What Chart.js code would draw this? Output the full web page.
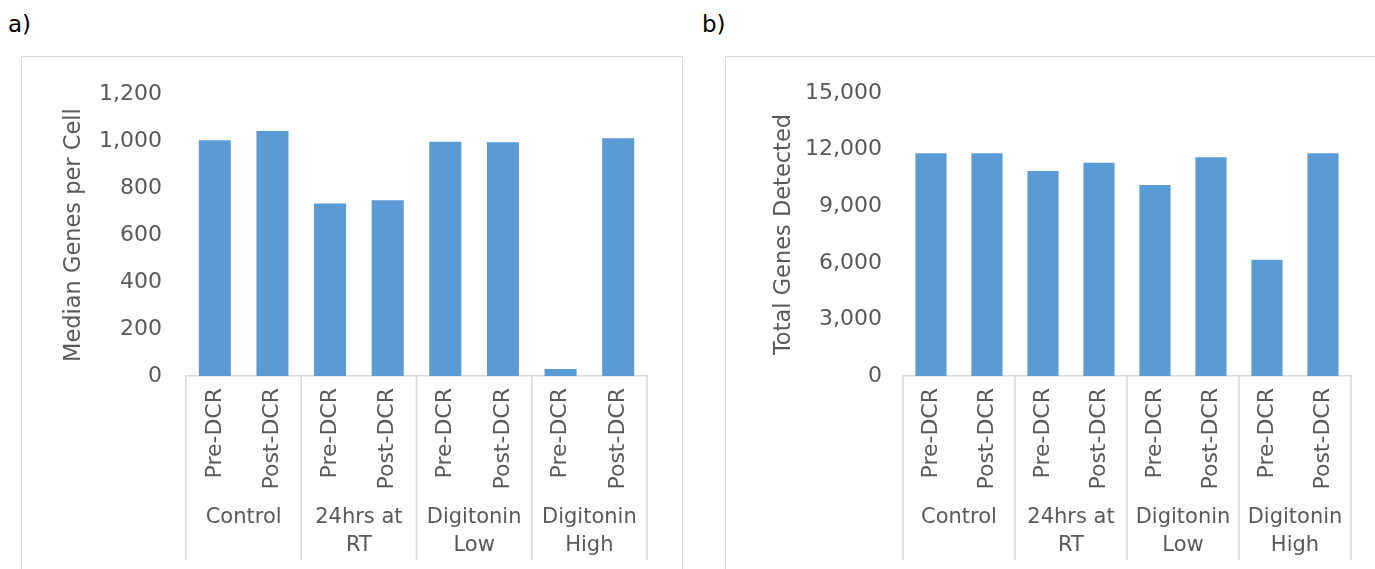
<!DOCTYPE html>
<html>
<head>
<meta charset="utf-8">
<script src="https://cdn.jsdelivr.net/npm/chart.js@4.4.0/dist/chart.umd.min.js"></script>
<style>
    body { margin: 0; width: 1375px; height: 569px; overflow: hidden; background: #fff; position: relative; font-family: 'DejaVu Sans', sans-serif; }
    .lbl { position: absolute; top: 11px; font-size: 23px; color: #000; }
    .box { position: absolute; border: 1px solid #d9d9d9; box-sizing: border-box; height: 600px; }
    canvas { position: absolute; top: 57px; }
</style>
</head>
<body>
<div class="lbl" style="left:8px">a)</div>
<div class="lbl" style="left:702px">b)</div>
<div class="box" style="left:21px; top:56px; width:662px"></div>
<div class="box" style="left:725px; top:56px; width:700px"></div>
<canvas id="chartA" width="690" height="512" style="left:0px"></canvas>
<canvas id="chartB" width="685" height="512" style="left:690px"></canvas>
<script>
const conditions = ['Pre-DCR', 'Post-DCR', 'Pre-DCR', 'Post-DCR', 'Pre-DCR', 'Post-DCR', 'Pre-DCR', 'Post-DCR']
const groups = ['Control', ['24hrs at', 'RT'], ['Digitonin', 'Low'], ['Digitonin', 'High']]
const medianGenes = [1004, 1043, 735, 748, 998, 995, 30, 1012]
const totalGenes = [11800, 11800, 10860, 11300, 10120, 11600, 6160, 11800]

const grey = '#595959'
const lineGrey = '#d9d9d9'

// vertical separators between the groups, under the axis
const separators = {
    id: 'separators',
    afterDraw: chart => {
        const x = chart.scales.x
        const ctx = chart.ctx
        const step = x.getPixelForValue(1) - x.getPixelForValue(0)
        ctx.save()
        ctx.strokeStyle = lineGrey
        ctx.lineWidth = 1.5
        for (let k = 0; k <= groups.length; k++) {
            const px = x.getPixelForValue(k * 2) - step / 2
            ctx.beginPath()
            ctx.moveTo(px, chart.chartArea.bottom)
            ctx.lineTo(px, 503)
            ctx.stroke()
        }
        ctx.restore()
    }
}

const makeChart = (id, values, title, max, step, yWidth, titlePad, tickPad, padRight) => {
    const ctx = document.getElementById(id).getContext('2d')
    return new Chart(ctx, {
        type: 'bar',
        data: {
            labels: conditions,
            datasets: [{
                data: values,
                backgroundColor: '#5b9bd5',
                borderWidth: 0,
                barPercentage: 0.556,
                categoryPercentage: 1
            }]
        },
        options: {
            responsive: false,
            animation: false,
            layout: { padding: { top: 36, right: padRight, left: 0, bottom: 0 } },
            plugins: { legend: { display: false }, tooltip: { enabled: false } },
            scales: {
                x: {
                    position: 'bottom',
                    grid: { display: false, drawTicks: false },
                    border: { display: true, color: lineGrey, width: 1.5 },
                    ticks: {
                        minRotation: 90, maxRotation: 90, autoSkip: false, padding: 12,
                        color: grey, font: { family: 'DejaVu Sans', size: 22 }
                    },
                    afterFit: s => { s.height = 118 }
                },
                x2: {
                    type: 'category',
                    position: 'bottom',
                    labels: groups,
                    offset: true,
                    grid: { display: false, drawTicks: false },
                    border: { display: false },
                    ticks: {
                        autoSkip: false, maxRotation: 0, padding: 10,
                        color: grey, font: { family: 'DejaVu Sans', size: 21, lineHeight: 1.33 }
                    },
                    afterFit: s => { s.height = 75 }
                },
                y: {
                    min: 0, max: max,
                    grid: { display: false, drawTicks: false },
                    border: { display: false },
                    ticks: {
                        stepSize: step, padding: tickPad, color: grey,
                        font: { family: 'DejaVu Sans', size: 22 },
                        callback: v => v.toLocaleString('en-US')
                    },
                    title: {
                        display: true, text: title, color: grey,
                        font: { family: 'DejaVu Sans', size: 22.5 },
                        padding: { top: titlePad, bottom: 0 }
                    },
                    afterFit: s => { s.width = yWidth }
                }
            }
        },
        plugins: [separators]
    })
}

makeChart('chartA', medianGenes, 'Median Genes per Cell', 1200, 200, 186, 61, 24, 43)
makeChart('chartB', totalGenes, 'Total Genes Detected', 15000, 3000, 213, 81, 21, 24)
</script>
</body>
</html>
